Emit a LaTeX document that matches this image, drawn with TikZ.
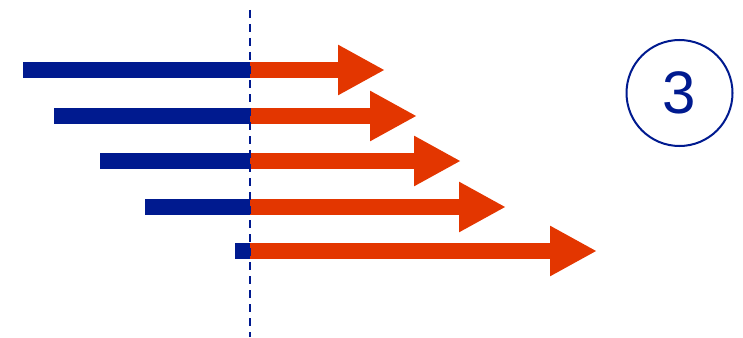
\documentclass[tikz,border=0pt]{standalone}
\usepackage{fontspec}
\setmainfont{Liberation Sans}
\usetikzlibrary{arrows.meta}
\definecolor{navy}{HTML}{001A8F}
\definecolor{flame}{HTML}{E33600}
\begin{document}
\begin{tikzpicture}[x=1pt,y=-1pt,
  past/.style={navy,line width=16pt},
  ahead/.style={flame,line width=16pt,-{Triangle[length=47pt,width=47pt]}}]
\useasboundingbox (0,0) rectangle (743,337);
\coordinate (b1) at (23,70);  \coordinate (m1) at (250,70);  \coordinate (t1) at (385,70);
\coordinate (b2) at (54,116); \coordinate (m2) at (250,116); \coordinate (t2) at (417,116);
\coordinate (b3) at (100,161);\coordinate (m3) at (250,161); \coordinate (t3) at (461,161);
\coordinate (b4) at (145,207);\coordinate (m4) at (250,207); \coordinate (t4) at (506,207);
\coordinate (b5) at (235,251);\coordinate (m5) at (250,251); \coordinate (t5) at (597,251);
\draw[past] (b1) -- ([xshift=1pt]m1);
\draw[past] (b2) -- ([xshift=1pt]m2);
\draw[past] (b3) -- ([xshift=1pt]m3);
\draw[past] (b4) -- ([xshift=1pt]m4);
\draw[past] (b5) -- ([xshift=1pt]m5);
\draw[ahead] (m1) -- (t1);
\draw[ahead] (m2) -- (t2);
\draw[ahead] (m3) -- (t3);
\draw[ahead] (m4) -- (t4);
\draw[ahead] (m5) -- (t5);
\coordinate (top) at (250,10);
\coordinate (bot) at (250,337);
\draw[navy,line width=2pt,dash pattern=on 8pt off 6pt] (top) -- (bot);
\node[draw=navy,line width=2pt,circle,minimum size=106pt,inner sep=0pt,
  text=navy,font=\fontsize{60}{60}\selectfont] (step) at (679.5,93) {3};
\end{tikzpicture}
\end{document}
